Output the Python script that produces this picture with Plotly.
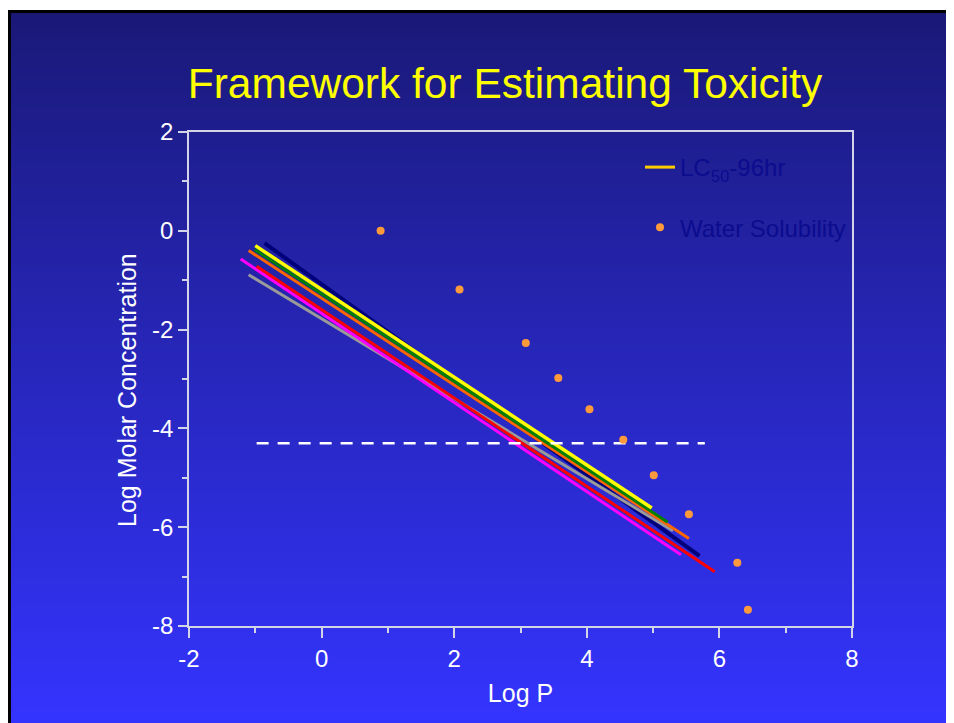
import plotly.graph_objects as go

# ---------------- data ----------------
x_tick_vals = [-2, 0, 2, 4, 6, 8]
x_tick_text = ["-2", "0", "2", "4", "6", "8"]
x_minor_vals = [-1, 1, 3, 5, 7]
y_tick_vals = [-8, -6, -4, -2, 0, 2]
y_tick_text = ["-8", "-6", "-4", "-2", "0", "2"]
y_minor_vals = [-7, -5, -3, -1, 1]

# LC50-96hr regression lines (start / end points, Log P vs Log Molar Conc.)
line_colors = ["#00007A", "#9A9A9A", "#FF00FF", "#FF0000", "#FF6600", "#008000", "#FFFF00"]
line_x0 = [-0.86, -1.10, -1.22, -0.98, -1.10, -1.01, -1.00]
line_y0 = [-0.25, -0.89, -0.57, -0.72, -0.40, -0.38, -0.30]
line_x1 = [5.70, 5.30, 5.42, 5.93, 5.54, 5.22, 4.98]
line_y1 = [-6.58, -6.07, -6.56, -6.90, -6.23, -5.90, -5.61]
line_widths = [4, 3, 3, 3, 3, 3, 3.5]

# Water solubility points
sol_logp = [0.89, 2.08, 3.08, 3.57, 4.04, 4.55, 5.01, 5.54, 6.27, 6.43]
sol_logc = [0.00, -1.19, -2.27, -2.98, -3.61, -4.23, -4.95, -5.74, -6.72, -7.67]

# Threshold (dashed)
thr_x = [-0.98, 5.78]
thr_y = [-4.30, -4.30]

# ---------------- layout geometry ----------------
W, H = 954, 723
OFF = 8  # page offset of the figure (body margin)
# plot area in page pixels: x 189..852, y 132..626
ML = 189 - OFF
MR = W - (852 - OFF)
MT = 132 - OFF
MB = H - (626 - OFF)
PW = W - ML - MR
PH = H - MT - MB


def px(page_x):
    return (page_x - OFF - ML) / PW


def py(page_y):
    return (H - MB - (page_y - OFF)) / PH


shapes = []
# black frame
shapes.append(dict(type="rect", xref="paper", yref="paper", layer="below",
                   x0=px(8), x1=px(W + 20), y0=py(H + 20), y1=py(10),
                   fillcolor="#000000", line=dict(width=0)))
# vertical gradient background
top_c = (26, 25, 120)
bot_c = (52, 52, 255)
y_start, y_end = 13, H
n = 142
step = (y_end - y_start) / n
for i in range(n):
    t = (i + 0.5) / n
    c = tuple(int(round(top_c[k] + (bot_c[k] - top_c[k]) * t)) for k in range(3))
    ya = y_start + i * step
    yb = ya + step + 0.8
    if i == n - 1:
        yb = H + 20
    shapes.append(dict(type="rect", xref="paper", yref="paper", layer="below",
                       x0=px(11), x1=px(W + 20), y0=py(yb), y1=py(ya),
                       fillcolor="rgb(%d,%d,%d)" % c, line=dict(width=0)))

fig = go.Figure()

for c, x0, y0, x1, y1, w in zip(line_colors, line_x0, line_y0, line_x1, line_y1, line_widths):
    fig.add_trace(go.Scatter(x=[x0, x1], y=[y0, y1], mode="lines",
                             line=dict(color=c, width=w), showlegend=False,
                             hoverinfo="skip"))

fig.add_trace(go.Scatter(x=thr_x, y=thr_y, mode="lines",
                         line=dict(color="white", width=2.5, dash="12px,9px"),
                         showlegend=False, hoverinfo="skip"))

# legend entry for LC50 lines
fig.add_trace(go.Scatter(x=[None], y=[None], mode="lines", name="LC<sub>50</sub>-96hr",
                         line=dict(color="#FFCC00", width=3), legendgroup="a"))

fig.add_trace(go.Scatter(x=sol_logp, y=sol_logc, mode="markers", name="Water Solubility",
                         marker=dict(color="#FF9A3C", size=8, line=dict(width=0)),
                         legendgroup="b"))

axis_line = "#D4D4E8"
font_family = "Liberation Sans, Arial, sans-serif"

fig.update_layout(
    width=W, height=H,
    margin=dict(l=ML, r=MR, t=MT, b=MB, autoexpand=False),
    paper_bgcolor="white",
    plot_bgcolor="rgba(0,0,0,0)",
    shapes=shapes,
    font=dict(family=font_family, color="white", size=22),
    title=dict(text="Framework for Estimating Toxicity", x=(505 - OFF) / W, xref="container",
               xanchor="center", y=1 - (83 - OFF) / H, yref="container", yanchor="middle",
               font=dict(size=42.5, color="#FFFF00", family=font_family)),
    legend=dict(x=px(640), y=py(145), xanchor="left", yanchor="top",
                bgcolor="rgba(0,0,0,0)", traceorder="grouped", tracegroupgap=26,
                font=dict(size=24, color="#0C0C8E", family=font_family)),
    annotations=[dict(text="Log Molar Concentration", xref="paper", yref="paper",
                      x=px(127), y=py(390), textangle=-90, showarrow=False,
                      xanchor="center", yanchor="middle",
                      font=dict(size=25, color="white", family=font_family))],
)

fig.update_xaxes(range=[-2, 8], tickmode="array", tickvals=x_tick_vals, ticktext=x_tick_text,
                 ticks="outside", ticklen=10, tickwidth=1.5, tickcolor=axis_line,
                 showline=True, linecolor=axis_line, linewidth=1.5, mirror=True,
                 showgrid=False, zeroline=False,
                 tickfont=dict(size=24, color="white"),
                 minor=dict(tickvals=x_minor_vals, ticks="outside", ticklen=5,
                            tickwidth=1.5, tickcolor=axis_line, showgrid=False),
                 title=dict(text="Log P", font=dict(size=25, color="white"), standoff=14))

fig.update_yaxes(range=[-8, 2], tickmode="array", tickvals=y_tick_vals, ticktext=y_tick_text,
                 ticks="outside", ticklen=9, tickwidth=1.5, tickcolor=axis_line,
                 showline=True, linecolor=axis_line, linewidth=1.5, mirror=True,
                 showgrid=False, zeroline=False,
                 tickfont=dict(size=24, color="white"),
                 minor=dict(tickvals=y_minor_vals, ticks="outside", ticklen=5,
                            tickwidth=1.5, tickcolor=axis_line, showgrid=False))

fig.write_html("out.html")
